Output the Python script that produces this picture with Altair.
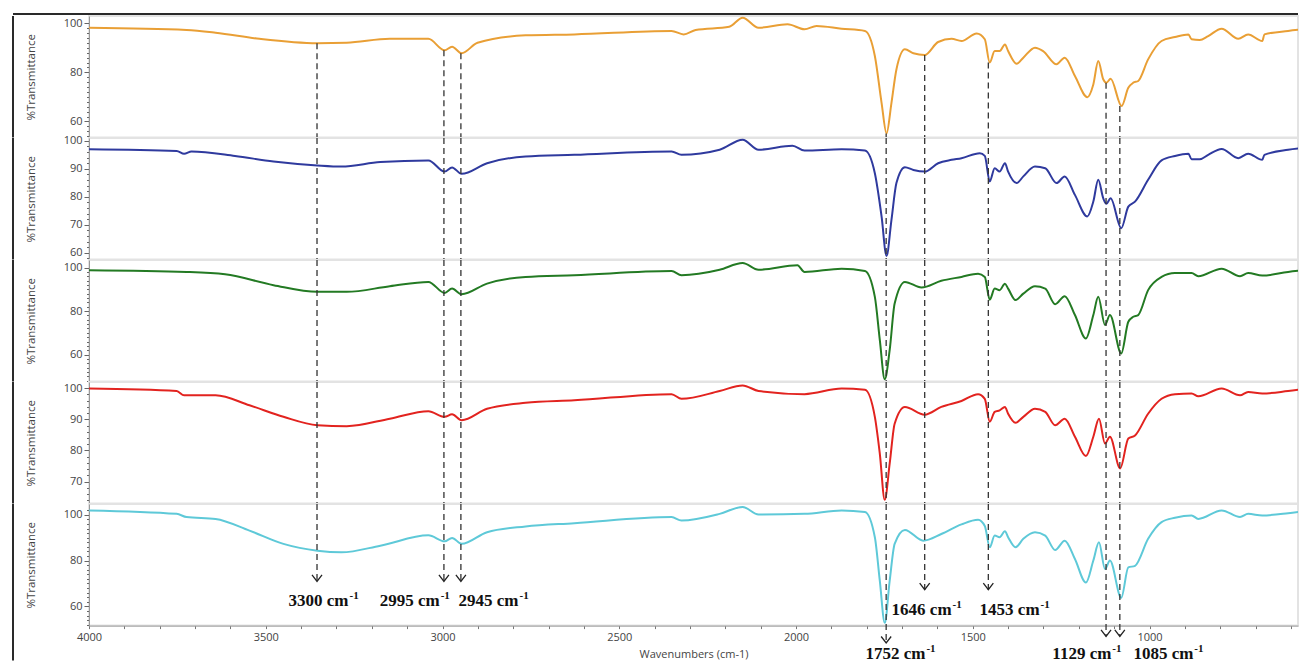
import altair as alt
import pandas as pd

# ---------------- data ----------------
orange = [(4000, 98.2), (3724, 97.3), (3642, 96.2), (3518, 93.7), (3354, 91.9), (3271, 92.1), (3149, 93.7),
          (3040, 93.7), (2994, 89.0), (2973, 90.5), (2946, 87.8), (2901, 92.1), (2765, 95.1), (2627, 95.5),
          (2352, 96.9), (2318, 95.5), (2284, 97.3), (2189, 98.6), (2151, 102.3), (2106, 98.2), (2024, 99.6),
          (1976, 97.6), (1942, 98.9), (1871, 97.8), (1805, 96.9), (1777, 86.7), (1758, 67.6), (1744, 55.1),
          (1730, 67.6), (1716, 81.2), (1692, 89.4), (1668, 87.8), (1636, 87.1), (1598, 92.4), (1560, 93.7),
          (1532, 92.8), (1489, 95.9), (1466, 93.5), (1452, 84.0), (1438, 88.7), (1424, 88.7), (1409, 91.4),
          (1400, 88.7), (1376, 83.5), (1357, 86.0), (1324, 90.1), (1301, 88.7), (1263, 83.3), (1240, 86.0),
          (1211, 78.5), (1176, 69.9), (1159, 75.1), (1145, 84.6), (1131, 77.2), (1122, 75.8), (1110, 77.4),
          (1079, 66.3), (1060, 73.7), (1046, 75.8), (1032, 76.5), (1004, 85.3), (966, 92.8), (928, 94.4),
          (890, 95.5), (881, 93.5), (858, 93.2), (834, 94.8), (796, 97.8), (749, 93.7), (721, 95.5),
          (681, 92.8), (675, 95.5), (608, 96.9), (550, 97.8)]
blue = [(4000, 97.0), (3752, 96.4), (3731, 95.4), (3710, 96.2), (3587, 94.6), (3478, 92.6), (3354, 91.2),
        (3286, 90.8), (3176, 92.4), (3040, 93.0), (2994, 89.0), (2973, 90.5), (2946, 88.2), (2874, 92.0),
        (2765, 94.4), (2627, 95.0), (2352, 96.2), (2324, 95.0), (2216, 96.8), (2151, 100.4), (2106, 96.8),
        (2010, 98.2), (1976, 96.5), (1871, 97.0), (1805, 96.5), (1777, 88.4), (1758, 73.0), (1744, 58.9),
        (1730, 71.8), (1716, 84.9), (1692, 90.6), (1668, 89.6), (1636, 89.0), (1598, 92.0), (1560, 93.2),
        (1532, 93.8), (1480, 95.6), (1466, 94.6), (1452, 85.5), (1438, 90.2), (1424, 89.0), (1409, 92.0),
        (1400, 89.0), (1376, 84.9), (1357, 87.3), (1324, 90.8), (1295, 90.2), (1263, 84.9), (1240, 87.3),
        (1211, 80.7), (1176, 73.0), (1159, 78.3), (1145, 86.1), (1131, 79.5), (1122, 77.5), (1110, 79.5),
        (1080, 68.8), (1060, 76.5), (1041, 78.3), (1004, 86.1), (966, 93.0), (928, 94.6), (890, 95.4),
        (881, 93.4), (858, 93.4), (834, 95.0), (796, 97.1), (749, 93.8), (721, 95.4), (681, 93.2),
        (675, 95.0), (608, 96.8), (550, 97.6)]
green = [(4000, 98.9), (3724, 98.1), (3615, 97.0), (3478, 92.0), (3354, 88.9), (3271, 88.9), (3149, 91.5),
         (3040, 93.5), (2994, 88.4), (2973, 90.4), (2946, 87.8), (2874, 92.7), (2765, 95.8), (2627, 96.6),
         (2352, 98.5), (2324, 96.6), (2216, 99.1), (2151, 102.2), (2106, 99.1), (1996, 101.2), (1976, 98.1),
         (1871, 99.6), (1805, 98.5), (1777, 86.6), (1763, 66.7), (1749, 48.6), (1735, 62.1), (1721, 83.5),
         (1692, 93.5), (1645, 90.9), (1589, 94.0), (1532, 95.8), (1485, 97.3), (1466, 95.8), (1452, 85.3),
         (1438, 90.4), (1424, 89.7), (1409, 92.7), (1400, 90.4), (1379, 85.1), (1357, 88.1), (1324, 91.5),
         (1295, 90.4), (1267, 83.2), (1240, 86.9), (1211, 78.2), (1180, 67.4), (1159, 78.2), (1145, 86.6),
         (1126, 73.6), (1112, 78.2), (1080, 60.5), (1060, 75.1), (1046, 77.4), (1032, 78.2), (1004, 89.7),
         (966, 95.8), (928, 97.6), (881, 97.6), (862, 96.1), (796, 99.6), (744, 96.1), (721, 97.6),
         (681, 96.4), (608, 98.1), (550, 99.1)]
red = [(4000, 99.9), (3752, 99.1), (3731, 97.7), (3642, 97.7), (3546, 94.5), (3450, 90.8), (3354, 88.1),
       (3271, 87.8), (3149, 90.2), (3040, 92.6), (2994, 90.8), (2973, 91.6), (2946, 89.7), (2874, 93.4),
       (2765, 95.3), (2627, 96.1), (2352, 98.1), (2324, 96.6), (2216, 99.1), (2151, 100.9), (2106, 99.1),
       (1976, 98.1), (1871, 99.9), (1805, 99.5), (1777, 90.8), (1763, 79.0), (1749, 64.1), (1735, 75.8),
       (1721, 88.6), (1692, 94.0), (1636, 91.5), (1589, 94.0), (1532, 95.9), (1485, 98.1), (1466, 96.6),
       (1452, 89.2), (1438, 92.4), (1424, 92.9), (1409, 94.0), (1400, 91.8), (1379, 88.9), (1357, 90.8),
       (1324, 93.4), (1295, 92.4), (1267, 88.1), (1240, 90.2), (1211, 84.4), (1180, 78.2), (1159, 84.4),
       (1143, 90.2), (1126, 82.2), (1112, 84.4), (1083, 74.2), (1060, 83.8), (1041, 84.8), (1004, 91.8),
       (966, 96.6), (928, 98.1), (881, 98.3), (862, 97.4), (796, 99.9), (744, 97.7), (721, 98.8),
       (681, 98.3), (608, 99.1), (550, 99.9)]
cyan = [(4000, 101.9), (3752, 100.4), (3724, 99.0), (3642, 98.2), (3546, 93.1), (3450, 87.3), (3354, 84.3),
        (3286, 83.6), (3176, 86.5), (3040, 91.0), (2994, 88.4), (2973, 89.9), (2946, 87.3), (2874, 92.4),
        (2765, 94.9), (2627, 96.3), (2352, 99.0), (2324, 97.5), (2216, 100.4), (2151, 103.4), (2106, 100.1),
        (1976, 100.4), (1871, 101.9), (1805, 101.2), (1777, 90.2), (1763, 71.2), (1749, 52.8), (1735, 71.2),
        (1721, 87.3), (1692, 93.4), (1640, 88.7), (1589, 91.6), (1532, 95.8), (1485, 97.8), (1466, 95.1),
        (1452, 85.8), (1438, 90.9), (1424, 90.2), (1409, 92.8), (1400, 90.2), (1379, 85.8), (1357, 89.5),
        (1324, 92.4), (1295, 90.9), (1267, 84.6), (1240, 88.7), (1211, 80.7), (1180, 70.4), (1159, 80.0),
        (1143, 88.0), (1126, 76.3), (1112, 80.0), (1080, 63.8), (1060, 77.0), (1041, 77.7), (1004, 89.5),
        (966, 96.8), (928, 98.7), (881, 99.7), (862, 98.2), (796, 101.9), (744, 99.0), (721, 100.4),
        (681, 99.7), (608, 100.7), (550, 101.9)]

spectra = [orange, blue, green, red, cyan]
series_colors = ["#e99f35", "#2f3a9e", "#237a23", "#e2231f", "#5ec9d8"]
panel_domains = [[53.4, 103.0], [57.6, 101.0], [47.5, 103.6], [62.9, 102.0], [51.6, 104.7]]
label_values = [[60, 80, 100], [60, 70, 80, 90, 100], [60, 80, 100], [70, 80, 90, 100], [60, 80, 100]]

# annotated bands
marker_names = ["3300", "2995", "2945", "1752", "1646", "1453", "1129", "1085"]
marker_wn = [3355, 2996, 2948, 1745, 1636, 1456, 1123, 1084]
marker_start_top = [91.9, 89.0, 87.8, 55.1, 87.1, 84.0, 75.8, 66.3]
marker_tip_bottom = [70.9, 70.9, 70.9, 44.0, 67.3, 67.3, 46.9, 46.9]
label_anchor_wn = [3266, 3008, 2785, 1634, 1560, 1311, 1108, 876]
label_baseline = [60.3, 60.3, 60.3, 37.0, 56.3, 56.3, 37.0, 37.0]

x_ticks = list(range(600, 4001, 100))

# ---------------- layout ----------------
W = 1209
H = 121.6
XMIN, XMAX = 580, 4000
LABEL_FONT = "Open Sans"
FRAME = "#2a2a2a"


def x_axis(bottom):
    if not bottom:
        return None
    return alt.Axis(values=x_ticks, format="d",
                    labelExpr="datum.value % 500 === 0 ? datum.label : ''",
                    tickSize=3, tickColor="#777", domainColor="#999", labelColor="#444",
                    labelFont=LABEL_FONT, labelFontSize=11, labelPadding=3, labelFlush=False,
                    labelOverlap=False, grid=False, title="Wavenumbers (cm-1)", titleFont=LABEL_FONT,
                    titleFontSize=11, titleFontWeight="normal", titleColor="#444", titlePadding=6)


def xenc(field, bottom):
    return alt.X(f"{field}:Q", scale=alt.Scale(domain=[XMIN, XMAX], reverse=True, nice=False, zero=False),
                 axis=x_axis(bottom))


def y_axis(i):
    lo, hi = panel_domains[i]
    start = int(lo) + 1
    if start % 2:
        start += 1
    labs = label_values[i]
    ticks = [v for v in range(start, int(hi) + 1, 2) if v in labs or v <= hi - 2.3]
    test = f"indexof({labs}, datum.value) >= 0"
    return alt.Axis(values=ticks, labelExpr=f"{test} ? datum.label : ''",
                    tickSize={"condition": {"test": test, "value": 5}, "value": 2.5},
                    tickColor="#666", domainColor="#999", labelColor="#444", labelFont=LABEL_FONT,
                    labelFontSize=11, labelPadding=2, labelFlush=False, labelOverlap=False, grid=False,
                    title="%Transmittance", titleFont=LABEL_FONT, titleFontSize=11.5,
                    titleFontWeight="normal", titleColor="#444", titlePadding=27)


def yenc(field, i):
    lo, hi = panel_domains[i]
    return alt.Y(f"{field}:Q", scale=alt.Scale(domain=[lo, hi], nice=False, zero=False), axis=y_axis(i))


one = alt.Data(values=[{}])
panels = []
for i in range(5):
    bottom = i == 4
    lo, hi = panel_domains[i]
    spec = pd.DataFrame(spectra[i], columns=["wn", "t"])
    line = alt.Chart(spec).mark_line(color=series_colors[i], strokeWidth=2, clip=True,
                                     interpolate="monotone").encode(
        x=xenc("wn", bottom), y=yenc("t", i))

    if i == 0:
        y1, y2 = marker_start_top, [lo] * 8
    elif bottom:
        y1, y2 = [hi] * 8, marker_tip_bottom
    else:
        y1, y2 = [hi] * 8, [lo] * 8
    rules_df = pd.DataFrame({"wn": marker_wn, "y1": y1, "y2": y2})
    rules = alt.Chart(rules_df).mark_rule(color="#333", strokeWidth=1.3, strokeDash=[6, 4]).encode(
        x=xenc("wn", bottom), y=yenc("y1", i), y2="y2:Q")

    frame_left = alt.Chart(one).mark_rule(color=FRAME, strokeWidth=2).encode(
        x=alt.value(-76), y=alt.value(0), y2=alt.value(H + (35 if bottom else 0)))
    layers = [line, rules, frame_left]

    if i == 0:
        frame_top = alt.Chart(one).mark_rule(color=FRAME, strokeWidth=2).encode(
            x=alt.value(-76), x2=alt.value(W), y=alt.value(-2))
        layers.append(frame_top)

    if bottom:
        arrows_df = pd.DataFrame({"wn": marker_wn, "tip": marker_tip_bottom})
        arrows = alt.Chart(arrows_df).mark_point(
            shape="M-1,-1.3L0,0L1,-1.3", filled=False, stroke="#222", strokeWidth=1.3, size=100, opacity=1
        ).encode(x=xenc("wn", bottom), y=yenc("tip", i))
        lab_df = pd.DataFrame({"wn": label_anchor_wn, "base": label_baseline,
                               "main": [n + " cm" for n in marker_names], "sup": ["-1"] * 8})
        main_txt = alt.Chart(lab_df).mark_text(
            align="right", baseline="alphabetic", font="Liberation Serif", fontSize=17,
            fontWeight="bold", color="#111").encode(x=xenc("wn", bottom), y=yenc("base", i), text="main:N")
        sup_txt = alt.Chart(lab_df).mark_text(
            align="left", baseline="alphabetic", dx=1, dy=-7, font="Liberation Serif", fontSize=11,
            fontWeight="bold", color="#111").encode(x=xenc("wn", bottom), y=yenc("base", i), text="sup:N")
        layers += [arrows, main_txt, sup_txt]

    panels.append(alt.layer(*layers).properties(width=W, height=H))

chart = alt.vconcat(*panels, spacing=0, bounds="flush").properties(
    padding={"left": 3, "top": 4, "right": 0, "bottom": 0}
).configure_view(stroke="#e3e3e3", strokeWidth=2)

chart.save("out.html", embed_options={"renderer": "svg", "actions": False})
